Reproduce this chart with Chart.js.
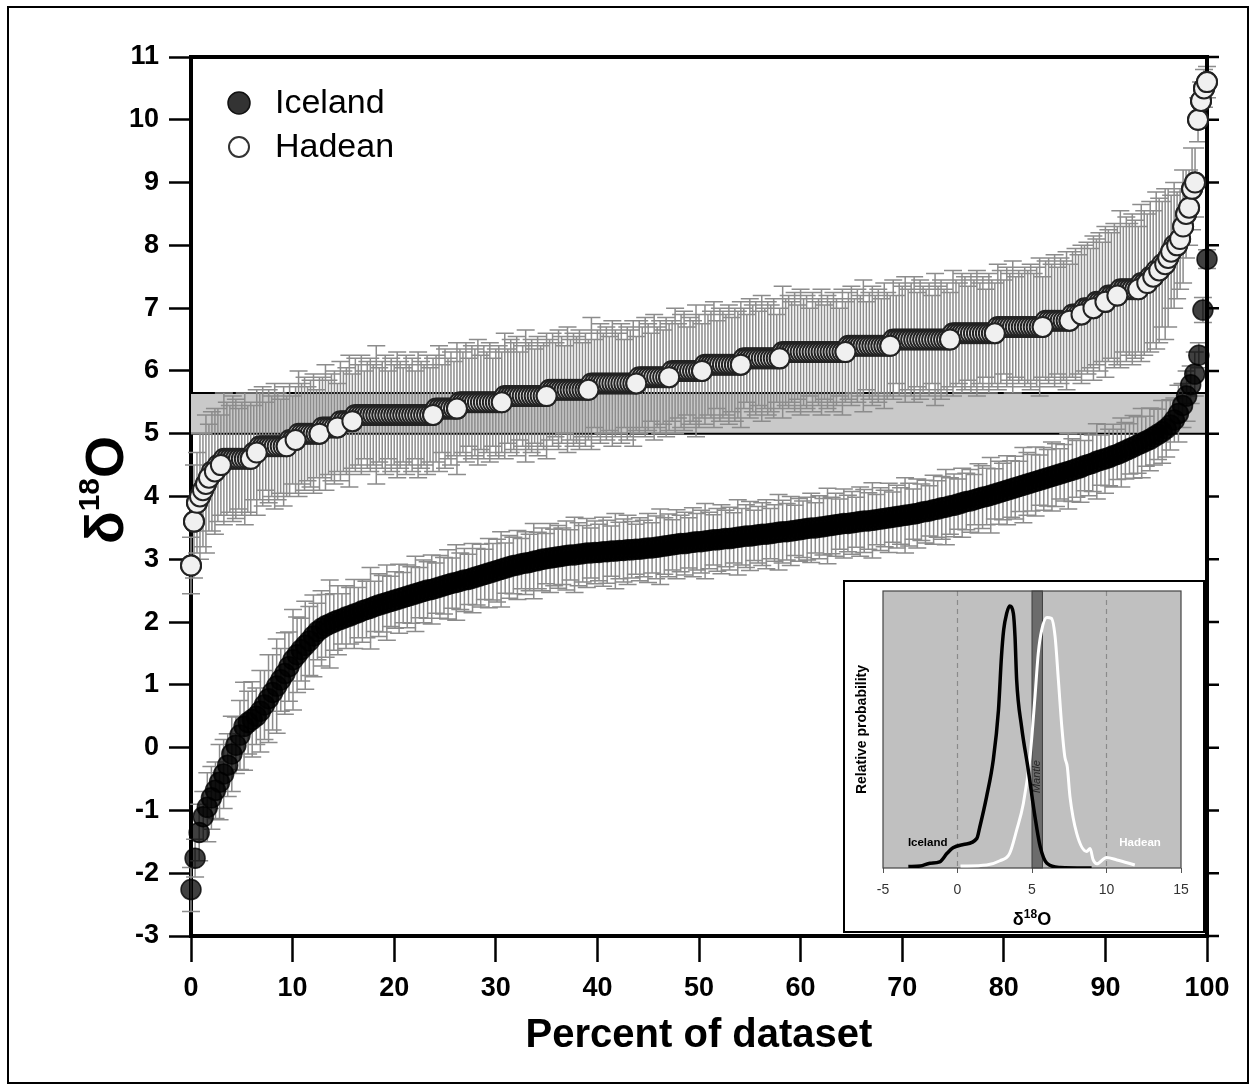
<!DOCTYPE html>
<html>
<head>
<meta charset="utf-8">
<script src="https://cdn.jsdelivr.net/npm/chart.js@4.4.0/dist/chart.umd.min.js"></script>
<style>
	html, body { margin: 0; padding: 0; background: #fff; }
	#wrap { position: relative; width: 1251px; height: 1086px; }
	#main { position: absolute; left: 0; top: 0; }
	#inset { position: absolute; left: 843px; top: 580px; width: 362px; height: 353px; border: 2px solid #000; box-sizing: border-box; background: #fff; }
	#insetCanvas { position: absolute; left: 0; top: 0; }
</style>
</head>
<body>
<div id="wrap">
	<canvas id="main" width="1251" height="1086"></canvas>
	<div id="inset"><canvas id="insetCanvas" width="358" height="349"></canvas></div>
</div>
<script>
const FONT = '"Liberation Sans", Arial, Helvetica, sans-serif'

// Iceland d18O, sorted (one value per sample)
const icelandValues = [
	-2.26, -1.76, -1.35, -1.10, -0.95, -0.80, -0.68, -0.55, -0.42, -0.28,
	-0.10, 0.04, 0.20, 0.34, 0.40, 0.45, 0.50, 0.58, 0.68, 0.78,
	0.88, 0.98, 1.08, 1.18, 1.29, 1.40, 1.48, 1.56, 1.63, 1.70,
	1.78, 1.85, 1.90, 1.94, 1.97, 2.00, 2.03, 2.05, 2.08, 2.10,
	2.13, 2.15, 2.18, 2.20, 2.22, 2.25, 2.27, 2.29, 2.31, 2.33,
	2.35, 2.37, 2.39, 2.41, 2.43, 2.45, 2.47, 2.49, 2.51, 2.52,
	2.54, 2.56, 2.58, 2.60, 2.62, 2.63, 2.65, 2.67, 2.68, 2.70,
	2.72, 2.74, 2.76, 2.78, 2.80, 2.82, 2.84, 2.86, 2.88, 2.90,
	2.91, 2.93, 2.94, 2.95, 2.97, 2.98, 3.00, 3.01, 3.02, 3.03,
	3.04, 3.05, 3.06, 3.07, 3.07, 3.08, 3.09, 3.10, 3.10, 3.11,
	3.11, 3.12, 3.12, 3.13, 3.13, 3.14, 3.14, 3.15, 3.15, 3.16,
	3.16, 3.17, 3.18, 3.18, 3.19, 3.20, 3.21, 3.22, 3.23, 3.24,
	3.25, 3.25, 3.26, 3.27, 3.28, 3.28, 3.29, 3.30, 3.31, 3.31,
	3.32, 3.33, 3.33, 3.34, 3.35, 3.36, 3.37, 3.37, 3.38, 3.39,
	3.40, 3.40, 3.41, 3.42, 3.43, 3.44, 3.44, 3.45, 3.46, 3.47,
	3.48, 3.49, 3.50, 3.50, 3.51, 3.52, 3.53, 3.54, 3.55, 3.56,
	3.57, 3.57, 3.58, 3.59, 3.60, 3.61, 3.61, 3.62, 3.63, 3.64,
	3.65, 3.66, 3.67, 3.68, 3.69, 3.70, 3.71, 3.72, 3.73, 3.75,
	3.76, 3.77, 3.79, 3.80, 3.82, 3.83, 3.85, 3.86, 3.88, 3.90,
	3.92, 3.93, 3.95, 3.97, 3.99, 4.00, 4.02, 4.04, 4.06, 4.08,
	4.10, 4.12, 4.14, 4.16, 4.18, 4.20, 4.22, 4.24, 4.26, 4.28,
	4.30, 4.32, 4.34, 4.36, 4.38, 4.40, 4.42, 4.44, 4.46, 4.49,
	4.51, 4.53, 4.56, 4.58, 4.60, 4.62, 4.65, 4.67, 4.70, 4.73,
	4.76, 4.79, 4.82, 4.85, 4.88, 4.91, 4.95, 4.99, 5.03, 5.08,
	5.14, 5.22, 5.32, 5.45, 5.60, 5.78, 5.95, 6.25, 6.97, 7.78
]
const icelandErr = [
	0.35, 0.30, 0.45, 0.40, 0.55, 0.50, 0.45, 0.60, 0.55, 0.50,
	0.60, 0.45, 0.55, 0.70, 0.50, 0.60, 0.45, 0.65, 0.55, 0.70,
	0.60, 0.75, 0.50, 0.65, 0.55, 0.80, 0.60, 0.50, 0.70, 0.55,
	0.65, 0.45, 0.60, 0.50, 0.70, 0.45, 0.55, 0.40, 0.50, 0.45,
	0.55, 0.40, 0.50, 0.45, 0.65, 0.40, 0.50, 0.45, 0.60, 0.40,
	0.45, 0.55, 0.40, 0.50, 0.45, 0.60, 0.40, 0.50, 0.45, 0.55,
	0.40, 0.50, 0.45, 0.55, 0.40, 0.60, 0.45, 0.50, 0.40, 0.55,
	0.45, 0.50, 0.40, 0.55, 0.45, 0.50, 0.60, 0.40, 0.50, 0.45,
	0.55, 0.40, 0.50, 0.45, 0.60, 0.45, 0.50, 0.40, 0.55, 0.45,
	0.50, 0.45, 0.55, 0.40, 0.60, 0.50, 0.45, 0.55, 0.40, 0.50,
	0.45, 0.55, 0.50, 0.40, 0.60, 0.45, 0.50, 0.55, 0.45, 0.40,
	0.50, 0.45, 0.55, 0.40, 0.50, 0.60, 0.45, 0.50, 0.40, 0.55,
	0.45, 0.50, 0.40, 0.55, 0.45, 0.50, 0.60, 0.45, 0.40, 0.50,
	0.55, 0.45, 0.50, 0.40, 0.60, 0.45, 0.50, 0.55, 0.40, 0.45,
	0.50, 0.55, 0.40, 0.45, 0.60, 0.50, 0.45, 0.55, 0.40, 0.50,
	0.45, 0.50, 0.55, 0.40, 0.50, 0.45, 0.60, 0.45, 0.50, 0.40,
	0.55, 0.45, 0.50, 0.40, 0.55, 0.50, 0.45, 0.60, 0.40, 0.50,
	0.45, 0.55, 0.40, 0.50, 0.45, 0.60, 0.50, 0.40, 0.55, 0.45,
	0.50, 0.40, 0.55, 0.45, 0.50, 0.60, 0.45, 0.50, 0.40, 0.55,
	0.45, 0.50, 0.40, 0.55, 0.50, 0.45, 0.60, 0.40, 0.50, 0.45,
	0.55, 0.45, 0.50, 0.40, 0.60, 0.50, 0.45, 0.55, 0.40, 0.50,
	0.45, 0.55, 0.50, 0.40, 0.45, 0.60, 0.50, 0.45, 0.55, 0.40,
	0.50, 0.45, 0.60, 0.40, 0.55, 0.45, 0.50, 0.40, 0.55, 0.45,
	0.40, 0.50, 0.45, 0.55, 0.40, 0.50, 0.45, 0.40, 0.50, 0.45,
	0.40, 0.35, 0.45, 0.35, 0.40, 0.30, 0.35, 0.20, 0.20, 0.15
]

// Hadean zircons: values come in 0.1 steps, so kept as level + number of samples
const hadeanLevels = [
	2.9, 3.6, 3.9, 4.0, 4.1, 4.2, 4.3, 4.4, 4.5, 4.6,
	4.7, 4.8, 4.9, 5.0, 5.1, 5.2, 5.3, 5.4, 5.5, 5.6,
	5.7, 5.8, 5.9, 6.0, 6.1, 6.2, 6.3, 6.4, 6.5, 6.6,
	6.7, 6.8, 6.9, 7.0, 7.1, 7.2, 7.3, 7.4, 7.5, 7.6,
	7.7, 7.8, 7.9, 8.0, 8.1, 8.3, 8.5, 8.6, 8.9, 9.0,
	10.0, 10.3, 10.5, 10.6
]
const hadeanCounts = [
	1, 1, 1, 1, 1, 1, 1, 2, 2, 10,
	2, 10, 3, 8, 6, 5, 27, 8, 15, 15,
	14, 16, 11, 11, 13, 13, 22, 15, 20, 15,
	16, 9, 4, 4, 4, 4, 7, 3, 2, 2,
	2, 1, 1, 2, 1, 1, 1, 1, 1, 1,
	1, 1, 1, 1
]
const hadeanErr = [
	0.45, 0.90, 0.80, 1.00, 0.90, 1.10, 0.85, 0.95, 1.00, 0.90, 0.80, 1.05, 0.90, 0.85, 1.00, 0.95, 0.80, 0.90, 1.05, 0.85,
	0.90, 0.75, 1.00, 0.85, 0.95, 0.70, 0.90, 0.80, 1.00, 0.85, 0.75, 0.95, 0.80, 0.90, 0.70, 0.85, 1.00, 0.80, 0.90, 0.75,
	0.85, 0.95, 0.70, 0.90, 0.80, 1.00, 0.75, 0.85, 0.90, 0.70, 0.95, 0.80, 0.85, 1.05, 0.75, 0.90, 0.80, 0.95, 0.70, 0.85,
	0.90, 0.80, 1.10, 0.75, 0.85, 0.95, 0.70, 0.90, 0.80, 1.00, 0.85, 0.75, 0.95, 0.80, 0.90, 0.70, 1.00, 0.85, 0.80, 0.95,
	0.75, 0.90, 0.85, 1.00, 0.70, 0.95, 0.80, 0.90, 0.75, 1.05, 0.85, 0.80, 0.95, 0.70, 0.90, 0.85, 1.00, 0.75, 0.90, 0.80,
	0.95, 0.70, 0.85, 0.90, 0.80, 1.00, 0.75, 0.90, 0.85, 0.95, 0.70, 0.80, 1.05, 0.85, 0.90, 0.75, 0.95, 0.80, 0.85, 1.00,
	0.80, 0.90, 0.75, 0.95, 0.85, 0.70, 1.00, 0.80, 0.90, 0.85, 0.95, 0.75, 0.90, 0.80, 1.05, 0.70, 0.85, 0.95, 0.80, 0.90,
	0.75, 1.00, 0.85, 0.80, 0.95, 0.70, 0.90, 0.85, 1.00, 0.75, 0.90, 0.80, 0.95, 0.85, 0.70, 1.00, 0.80, 0.90, 0.75, 0.95,
	0.85, 0.80, 1.00, 0.75, 0.90, 0.95, 0.70, 0.85, 0.80, 1.05, 0.90, 0.75, 0.95, 0.80, 0.85, 1.00, 0.70, 0.90, 0.85, 0.80,
	0.95, 0.75, 0.90, 0.85, 1.00, 0.80, 0.70, 0.95, 0.85, 0.90, 0.75, 1.00, 0.80, 0.90, 0.85, 0.95, 0.70, 0.80, 1.05, 0.85,
	0.90, 0.80, 0.95, 0.75, 1.00, 0.85, 0.90, 0.70, 0.95, 0.80, 0.85, 1.00, 0.75, 0.90, 0.80, 0.95, 0.85, 0.70, 1.00, 0.80,
	0.85, 0.95, 0.75, 0.90, 0.80, 1.05, 0.70, 0.85, 0.95, 0.80, 0.90, 0.75, 1.00, 0.85, 0.80, 0.95, 0.70, 0.90, 0.85, 1.00,
	0.80, 0.90, 1.00, 0.75, 0.95, 0.85, 0.80, 0.90, 0.70, 1.05, 0.85, 0.95, 0.80, 0.90, 0.75, 1.00, 0.85, 0.80, 0.95, 0.90,
	0.75, 0.95, 0.85, 1.00, 0.80, 0.90, 0.70, 0.95, 0.85, 0.80, 1.00, 0.90, 0.75, 0.95, 0.85, 1.05, 0.80, 0.90, 0.85, 0.95,
	0.90, 1.00, 0.85, 0.95, 1.10, 0.80, 0.95, 1.00, 0.90, 1.05, 0.85, 1.00, 0.95, 1.10, 0.90, 1.00, 1.05, 0.95, 1.10, 1.00,
	1.05, 0.95, 1.15, 1.00, 1.10, 0.95, 1.20, 1.05, 1.00, 1.15, 1.10, 1.25, 1.00, 1.15, 1.05, 1.20, 1.10, 1.00, 1.25, 1.15,
	1.10, 1.20, 1.05, 1.25, 1.15, 1.00, 1.20, 1.10, 0.90, 1.00, 0.85, 0.80, 0.90, 0.70, 0.60, 0.65, 0.55, 0.35, 0.30, 0.30,
	0.25
]

const yRange = [-3, 11]
const xRange = [0, 100]
const mantleBand = [5.0, 5.65]

// inset: relative probability curves
const icelandPdfX = [-3.3, -2.5, -1.85, -1.2, -0.7, -0.3, 0.4, 1.3, 1.5, 1.95, 2.4, 2.75, 2.95, 3.1, 3.3, 3.5, 3.75, 3.86, 3.97, 4.3, 4.75, 5.2, 5.55, 6.0, 6.9, 9.0]
const icelandPdfY = [0.005, 0.007, 0.017, 0.022, 0.053, 0.073, 0.085, 0.107, 0.149, 0.257, 0.39, 0.57, 0.763, 0.86, 0.919, 0.946, 0.919, 0.835, 0.679, 0.51, 0.354, 0.185, 0.077, 0.017, 0.002, 0]
const hadeanPdfX = [0.2, 1.95, 2.85, 3.5, 3.97, 4.42, 4.87, 5.2, 5.42, 5.65, 6.0, 6.3, 6.55, 6.77, 7.0, 7.2, 7.37, 7.55, 8.0, 8.67, 8.9, 9.1, 9.35, 10.0, 10.7, 11.9]
const hadeanPdfY = [0.007, 0.011, 0.026, 0.053, 0.137, 0.233, 0.402, 0.618, 0.775, 0.859, 0.904, 0.901, 0.835, 0.679, 0.51, 0.402, 0.365, 0.257, 0.125, 0.06, 0.07, 0.03, 0.015, 0.038, 0.029, 0.011]
const insetMantle = [5.0, 5.7]
const insetRefLines = [0, 10]

Chart.defaults.font.family = FONT

function percentRank(values) {
	return values.map((v, i) => ({ x: 100 * i / (values.length - 1), y: v }))
}

const hadeanValues = []
const hadeanRunEnds = []
hadeanLevels.forEach((level, k) => {
	for (let j = 0; j < hadeanCounts[k]; j++) hadeanValues.push(level)
	hadeanRunEnds.push(hadeanValues.length - 1)
})

const icelandPoints = percentRank(icelandValues)
const hadeanPoints = percentRank(hadeanValues)
const hadeanFront = hadeanRunEnds.map((i) => hadeanPoints[i])

function errorBars(ctx, x, y, pts, errs) {
	ctx.strokeStyle = '#8c8c8c'
	ctx.lineWidth = 1.5
	ctx.beginPath()
	pts.forEach((p, i) => {
		const px = x.getPixelForValue(p.x)
		const y1 = y.getPixelForValue(p.y + errs[i])
		const y2 = y.getPixelForValue(p.y - errs[i])
		ctx.moveTo(px, y1); ctx.lineTo(px, y2)
		ctx.moveTo(px - 9, y1); ctx.lineTo(px + 9, y1)
		ctx.moveTo(px - 9, y2); ctx.lineTo(px + 9, y2)
	})
	ctx.stroke()
}

const mainDecor = {
	id: 'mainDecor',
	beforeDatasetsDraw(chart) {
		const { ctx, chartArea: a, scales: { x, y } } = chart
		ctx.save()
		const yt = y.getPixelForValue(mantleBand[1])
		const yb = y.getPixelForValue(mantleBand[0])
		ctx.fillStyle = '#c9c9c9'
		ctx.fillRect(a.left, yt, a.right - a.left, yb - yt)
		ctx.strokeStyle = '#000'
		ctx.lineWidth = 2
		ctx.beginPath()
		ctx.moveTo(a.left, yt); ctx.lineTo(a.right, yt)
		ctx.moveTo(a.left, yb); ctx.lineTo(a.right, yb)
		ctx.stroke()

		errorBars(ctx, x, y, hadeanPoints, hadeanErr)
		errorBars(ctx, x, y, icelandPoints, icelandErr)

		// top and right frame, ticks on the right side
		ctx.strokeStyle = '#000'
		ctx.lineWidth = 4
		ctx.beginPath()
		ctx.moveTo(a.left - 2, a.top); ctx.lineTo(a.right + 2, a.top)
		ctx.moveTo(a.right, a.top - 2); ctx.lineTo(a.right, a.bottom + 2)
		ctx.stroke()
		ctx.lineWidth = 2.5
		ctx.beginPath()
		for (let v = yRange[0]; v <= yRange[1]; v++) {
			const py = y.getPixelForValue(v)
			ctx.moveTo(a.right, py); ctx.lineTo(a.right + 12, py)
		}
		ctx.stroke()
		ctx.restore()
	},
	afterDraw(chart) {
		const { ctx } = chart
		ctx.save()
		// legend
		ctx.lineWidth = 1.5
		ctx.beginPath(); ctx.arc(239, 103, 11, 0, Math.PI * 2)
		ctx.fillStyle = '#333'; ctx.fill(); ctx.strokeStyle = '#111'; ctx.stroke()
		ctx.lineWidth = 2
		ctx.beginPath(); ctx.arc(239, 147, 10, 0, Math.PI * 2)
		ctx.fillStyle = '#fff'; ctx.fill(); ctx.strokeStyle = '#333'; ctx.stroke()
		ctx.fillStyle = '#000'
		ctx.font = `34px ${FONT}`
		ctx.textAlign = 'left'
		ctx.textBaseline = 'middle'
		ctx.fillText('Iceland', 275, 104)
		ctx.fillText('Hadean', 275, 148)

		// x title
		ctx.font = `bold 40px ${FONT}`
		ctx.textAlign = 'center'
		ctx.textBaseline = 'alphabetic'
		ctx.fillText('Percent of dataset', 699, 1047)

		// y title, δ18O rotated
		ctx.translate(123, 490)
		ctx.rotate(-Math.PI / 2)
		ctx.textAlign = 'left'
		const big = `bold 54px ${FONT}`
		const small = `bold 30px ${FONT}`
		ctx.font = big
		const wd = ctx.measureText('δ').width
		const wo = ctx.measureText('O').width
		ctx.font = small
		const w18 = ctx.measureText('18').width
		let cx = -(wd + w18 + wo) / 2
		ctx.font = big
		ctx.fillText('δ', cx, 0)
		cx += wd
		ctx.font = small
		ctx.fillText('18', cx, -24)
		cx += w18
		ctx.font = big
		ctx.fillText('O', cx, 0)
		ctx.restore()

		ctx.save()
		ctx.strokeStyle = '#000'
		ctx.lineWidth = 2
		ctx.strokeRect(8, 7, 1240, 1076)
		ctx.restore()
	}
}

const pointStyle = {
	pointRadius: 10,
	pointBackgroundColor: '#f0f0f0',
	pointBorderColor: '#222',
	pointBorderWidth: 2,
	clip: false
}

new Chart(document.getElementById('main'), {
	type: 'scatter',
	data: {
		datasets: [
			Object.assign({ label: 'Hadean', data: hadeanFront, order: 0 }, pointStyle),
			Object.assign({ label: 'Hadean', data: hadeanPoints, order: 1 }, pointStyle),
			{
				label: 'Iceland',
				data: icelandPoints,
				order: 2,
				pointRadius: 10,
				pointBackgroundColor: 'rgba(0,0,0,0.75)',
				pointBorderColor: 'rgba(0,0,0,0.8)',
				pointBorderWidth: 1.5,
				clip: false
			}
		]
	},
	options: {
		responsive: false,
		animation: false,
		events: [],
		layout: { padding: { left: 0, right: 44, top: 57, bottom: 0 } },
		plugins: { legend: { display: false }, tooltip: { enabled: false } },
		scales: {
			x: {
				type: 'linear',
				min: xRange[0],
				max: xRange[1],
				afterFit: (s) => { s.height = 150 },
				ticks: { stepSize: 10, color: '#000', padding: 10, maxRotation: 0, font: { size: 27, weight: 'bold' } },
				grid: { drawOnChartArea: false, tickLength: 26, tickWidth: 2.5, tickColor: '#000', color: '#000' },
				border: { display: true, color: '#000', width: 4 }
			},
			y: {
				min: yRange[0],
				max: yRange[1],
				afterFit: (s) => { s.width = 191 },
				ticks: { stepSize: 1, color: '#000', padding: 10, font: { size: 27, weight: 'bold' } },
				grid: { drawOnChartArea: false, tickLength: 22, tickWidth: 2.5, tickColor: '#000', color: '#000' },
				border: { display: true, color: '#000', width: 4 }
			}
		}
	},
	plugins: [mainDecor]
})

// ---- inset ----
function pairs(xs, ys) {
	return xs.map((v, i) => ({ x: v, y: ys[i] }))
}

const insetDecor = {
	id: 'insetDecor',
	beforeDatasetsDraw(chart) {
		const { ctx, chartArea: a, scales: { x, y } } = chart
		ctx.save()
		ctx.fillStyle = '#c0c0c0'
		ctx.fillRect(a.left, a.top, a.right - a.left, a.bottom - a.top)

		ctx.strokeStyle = '#8a8a8a'
		ctx.lineWidth = 1.2
		ctx.setLineDash([5, 4])
		ctx.beginPath()
		insetRefLines.forEach((v) => {
			const px = x.getPixelForValue(v)
			ctx.moveTo(px, a.top); ctx.lineTo(px, a.bottom)
		})
		ctx.stroke()
		ctx.setLineDash([])

		const m0 = x.getPixelForValue(insetMantle[0])
		const m1 = x.getPixelForValue(insetMantle[1])
		ctx.fillStyle = '#6c6c6c'
		ctx.fillRect(m0, a.top, m1 - m0, a.bottom - a.top)
		ctx.strokeStyle = '#3c3c3c'
		ctx.lineWidth = 1
		ctx.strokeRect(m0, a.top, m1 - m0, a.bottom - a.top)

		ctx.save()
		ctx.translate((m0 + m1) / 2, y.getPixelForValue(0.33))
		ctx.rotate(-Math.PI / 2)
		ctx.font = `italic 11px ${FONT}`
		ctx.fillStyle = '#262626'
		ctx.textAlign = 'center'
		ctx.textBaseline = 'middle'
		ctx.fillText('Mantle', 0, 0)
		ctx.restore()

		ctx.strokeStyle = '#444'
		ctx.lineWidth = 1.2
		ctx.strokeRect(a.left, a.top, a.right - a.left, a.bottom - a.top)
		ctx.restore()
	},
	afterDraw(chart) {
		const { ctx, chartArea: a, scales: { x, y } } = chart
		ctx.save()
		ctx.font = `bold 11.5px ${FONT}`
		ctx.textAlign = 'center'
		ctx.textBaseline = 'middle'
		ctx.fillStyle = '#000'
		ctx.fillText('Iceland', x.getPixelForValue(-2.0), y.getPixelForValue(0.09))
		ctx.fillStyle = '#fff'
		ctx.fillText('Hadean', x.getPixelForValue(12.25), y.getPixelForValue(0.09))

		ctx.fillStyle = '#000'
		ctx.save()
		ctx.translate(17, (a.top + a.bottom) / 2)
		ctx.rotate(-Math.PI / 2)
		ctx.font = `bold 14px ${FONT}`
		ctx.fillText('Relative probability', 0, 0)
		ctx.restore()

		const big = `bold 18px ${FONT}`
		const small = `bold 12px ${FONT}`
		ctx.textAlign = 'left'
		ctx.textBaseline = 'alphabetic'
		ctx.font = big
		const wd = ctx.measureText('δ').width
		const wo = ctx.measureText('O').width
		ctx.font = small
		const w18 = ctx.measureText('18').width
		let cx = (a.left + a.right) / 2 - (wd + w18 + wo) / 2
		ctx.font = big
		ctx.fillText('δ', cx, 343)
		cx += wd
		ctx.font = small
		ctx.fillText('18', cx, 336)
		cx += w18
		ctx.font = big
		ctx.fillText('O', cx, 343)
		ctx.restore()
	}
}

new Chart(document.getElementById('insetCanvas'), {
	type: 'scatter',
	data: {
		datasets: [
			{ data: pairs(icelandPdfX, icelandPdfY), showLine: true, borderColor: '#000', borderWidth: 3.5, pointRadius: 0, cubicInterpolationMode: 'monotone' },
			{ data: pairs(hadeanPdfX, hadeanPdfY), showLine: true, borderColor: '#fff', borderWidth: 3, pointRadius: 0, cubicInterpolationMode: 'monotone' }
		]
	},
	options: {
		responsive: false,
		animation: false,
		events: [],
		layout: { padding: { left: 38, right: 22, top: 9, bottom: 0 } },
		plugins: { legend: { display: false }, tooltip: { enabled: false } },
		scales: {
			x: {
				type: 'linear',
				min: -5,
				max: 15,
				afterFit: (s) => { s.height = 63 },
				ticks: { stepSize: 5, color: '#333', padding: 9, maxRotation: 0, font: { size: 14 } },
				grid: { drawOnChartArea: false, tickLength: 5, tickColor: '#555' },
				border: { display: false }
			},
			y: { display: false, min: 0, max: 1 }
		}
	},
	plugins: [insetDecor]
})
</script>
</body>
</html>
